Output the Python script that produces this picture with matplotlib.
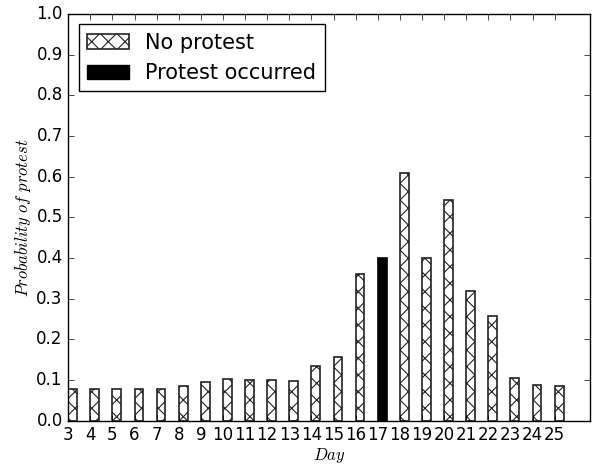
import matplotlib
matplotlib.use("Agg")
import matplotlib.pyplot as plt
from matplotlib.patches import Patch

plt.style.use("classic")
plt.rcParams["mathtext.fontset"] = "cm"
plt.rcParams["hatch.linewidth"] = 0.8

# days and probability per day
days = list(range(3, 26))
probs = [0.078, 0.078, 0.078, 0.078, 0.078, 0.085, 0.095, 0.102, 0.100, 0.100,
         0.098, 0.135, 0.157, 0.362, 0.399, 0.608, 0.399, 0.542, 0.320, 0.258,
         0.105, 0.087, 0.085]
protest_day = 17

fig = plt.figure(figsize=(5.93, 4.65), dpi=100, facecolor="white")
ax = fig.add_axes([0.115, 0.095, 0.88, 0.875])

for d, p in zip(days, probs):
    if d == protest_day:
        ax.bar(d, p, width=0.4, align="edge", color="black", edgecolor="black",
               linewidth=1.2)
    else:
        ax.bar(d, p, width=0.4, align="edge", color="white", edgecolor="#222222",
               hatch="xx", linewidth=1.2)

ax.set_xlim(3, 26.6)
ax.set_ylim(0, 1.0)
ax.set_xticks(days)
ax.set_xticklabels([str(d) for d in days], fontsize=12)
ax.set_yticks([i / 10 for i in range(11)])
ax.tick_params(axis="y", labelsize=12)
ax.set_xlabel(r"$Day$", fontsize=12, labelpad=1)
ax.set_ylabel(r"$Probability\ of\ protest$", fontsize=12, labelpad=2)

handles = [Patch(facecolor="white", edgecolor="#222222", hatch="xx", linewidth=1.2),
           Patch(facecolor="black", edgecolor="black")]
ax.legend(handles, ["No protest", "Protest occurred"], loc="upper left",
          fontsize=15, handlelength=2.0)

fig.savefig("out.png", dpi=100, facecolor="white")
